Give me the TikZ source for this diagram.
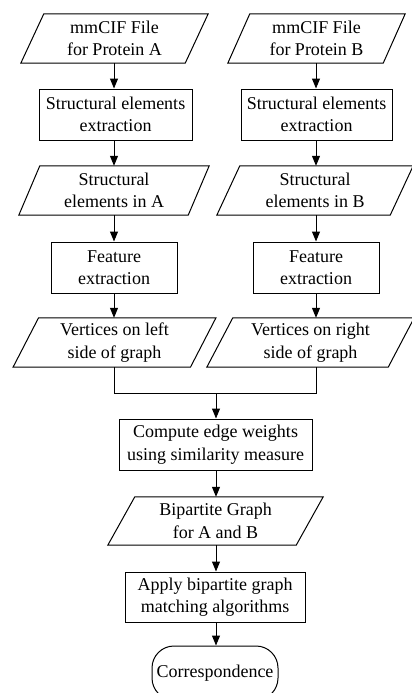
\documentclass[tikz,border=0pt]{standalone}
\usepackage{fontspec}
\setmainfont{Liberation Serif}
\usetikzlibrary{arrows.meta}
\begin{document}
\begin{tikzpicture}[x=1pt,y=-1pt,
  every node/.style={font=\fontsize{18}{22.5}\selectfont, align=center, inner sep=0pt},
  procbox/.style={draw, line width=1pt, rectangle},
  iobox/.style={rectangle, minimum height=49pt},
  termbox/.style={draw, line width=1pt, rectangle, rounded corners=22pt},
  arr/.style={line width=1pt, -{Triangle[length=10pt,width=8pt]}},
  conn/.style={line width=1pt}]
\clip (0,0) rectangle (412,693);
% input/output (parallelogram) nodes: text holders
\node[iobox, minimum width=164pt] (pA) at (114.5,38.5) {mmCIF File\\for Protein A};
\node[iobox, minimum width=155pt] (pB) at (316.5,38.5) {mmCIF File\\for Protein B};
\node[procbox, minimum width=153pt, minimum height=51pt] (bA) at (115.5,114.5) {Structural elements\\extraction};
\node[procbox, minimum width=151pt, minimum height=51pt] (bB) at (316.5,114.5) {Structural elements\\extraction};
\node[iobox, minimum width=169pt] (sA) at (114,190.5) {Structural\\elements in A};
\node[iobox, minimum width=173pt] (sB) at (315,190.5) {Structural\\elements in B};
\node[procbox, minimum width=126pt, minimum height=51pt] (fA) at (114,267.5) {Feature\\extraction};
\node[procbox, minimum width=126pt, minimum height=51pt] (fB) at (316,267.5) {Feature\\extraction};
\node[iobox, minimum width=177pt] (vA) at (114.5,342.5) {Vertices on left\\side of graph};
\node[iobox, minimum width=181pt] (vB) at (310.5,342.5) {Vertices on right\\side of graph};
\node[procbox, minimum width=193pt, minimum height=51pt] (cE) at (215.5,444.5) {Compute edge weights\\using similarity measure};
\node[iobox, minimum width=188pt, minimum height=48pt] (bg) at (215.5,521) {Bipartite Graph\\for A and B};
\node[procbox, minimum width=180pt, minimum height=50pt] (ap) at (215,597) {Apply bipartite graph\\matching algorithms};
\node[termbox, minimum width=126pt, minimum height=54pt] (cor) at (215,673) {Correspondence};
% parallelogram outlines
\foreach \n/\s in {pA/11.5, pB/11, sA/10.5, sB/11.5, vA/12.75, vB/13, bg/13.5}{
  \draw[line width=1pt] ([xshift=\s pt]\n.north west) -- ([xshift=\s pt]\n.north east)
    -- ([xshift=-\s pt]\n.south east) -- ([xshift=-\s pt]\n.south west) -- cycle;
}
% connectors
\coordinate (colA) at (114,0);
\coordinate (colB) at (316,0);
\coordinate (colC) at (216,0);
\coordinate (mL) at (114,393);
\coordinate (mR) at (316,393);
\coordinate (mC) at (216,393);
\draw[arr] (colA |- pA.south) -- (colA |- bA.north);
\draw[arr] (colA |- bA.south) -- (colA |- sA.north);
\draw[arr] (colA |- sA.south) -- (colA |- fA.north);
\draw[arr] (colA |- fA.south) -- (colA |- vA.north);
\draw[arr] (colB |- pB.south) -- (colB |- bB.north);
\draw[arr] (colB |- bB.south) -- (colB |- sB.north);
\draw[arr] (colB |- sB.south) -- (colB |- fB.north);
\draw[arr] (colB |- fB.south) -- (colB |- vB.north);
\draw[conn] (colA |- vA.south) -- (mL) -- (mR) -- (colB |- vB.south);
\draw[arr] (mC) -- (colC |- cE.north);
\draw[arr] (colC |- cE.south) -- (colC |- bg.north);
\draw[arr] (colC |- bg.south) -- (colC |- ap.north);
\draw[arr] (colC |- ap.south) -- (colC |- cor.north);
\end{tikzpicture}
\end{document}
